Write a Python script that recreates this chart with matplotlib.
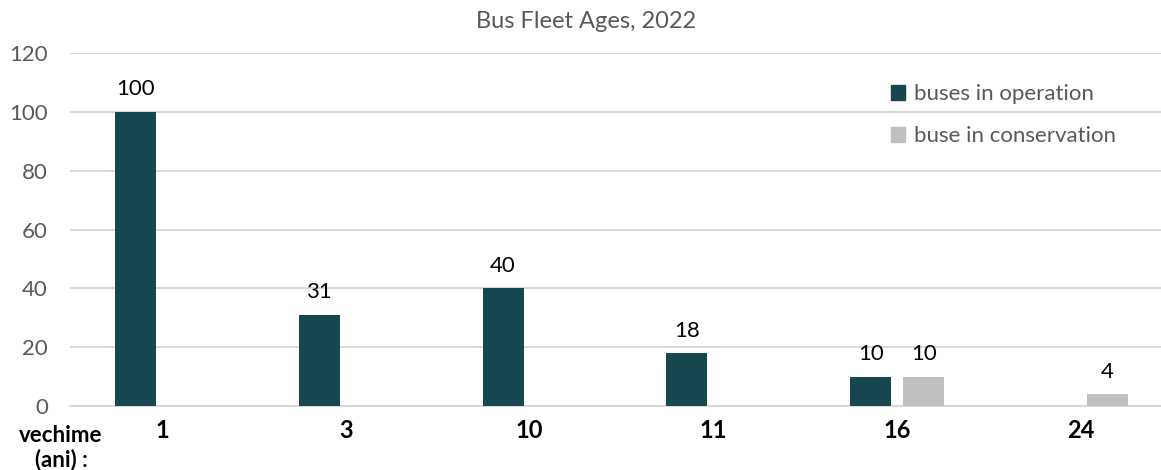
import matplotlib.pyplot as plt
from matplotlib.patches import Patch
import numpy as np

# data
ages = ['1', '3', '10', '11', '16', '24']
in_operation = [100, 31, 40, 18, 10, 0]
in_conservation = [0, 0, 0, 0, 10, 4]

teal = '#16474F'
grey = '#BFBFBF'
txt = '#595959'

plt.rcParams['font.family'] = ['Lato', 'DejaVu Sans']

fig = plt.figure(figsize=(11.61, 4.70), dpi=100)
ax = fig.add_axes([70 / 1161, 64 / 470, 1103 / 1161, 353 / 470])

x = np.arange(len(ages))
w = 0.223
off = 0.144
b1 = ax.bar(x - off, in_operation, w, color=teal, zorder=3)
b2 = ax.bar(x + off, in_conservation, w, color=grey, zorder=3)

# value labels, skip the empty ones
for bars, vals in [(b1, in_operation), (b2, in_conservation)]:
    labels = [str(v) if v else '' for v in vals]
    ax.bar_label(bars, labels=labels, padding=9, fontsize=16, color='black')

ax.set_xlim(-0.5, len(ages) - 0.5)
ax.set_ylim(0, 120)
ax.set_yticks(range(0, 121, 20))
ax.set_xticks(x)
ax.set_xticklabels(ages, fontweight='bold', fontsize=17, color='black')
ax.tick_params(axis='x', length=0, pad=9)
ax.tick_params(axis='y', length=0, pad=16, labelsize=16, labelcolor=txt)

ax.grid(axis='y', color='#D9D9D9', linewidth=1.5, zorder=0)
for s in ['top', 'right', 'left']:
    ax.spines[s].set_visible(False)
ax.spines['bottom'].set_color('#D9D9D9')
ax.spines['bottom'].set_linewidth(1.5)

fig.text(586 / 1161, 1 - 22 / 470, 'Bus Fleet Ages, 2022', ha='center', va='center',
         fontsize=17, color=txt)
fig.text(61 / 1161, 1 - 448 / 470, 'vechime\n(ani) :', ha='center', va='center',
         fontsize=16, fontweight='bold', color='black', linespacing=1.15)

handles = [Patch(color=teal, label='buses in operation'),
           Patch(color=grey, label='buse in conservation')]
leg = ax.legend(handles=handles, loc='upper left', bbox_to_anchor=(882 / 1161, 1 - 75 / 470),
                bbox_transform=fig.transFigure, frameon=False, fontsize=16,
                handlelength=0.65, handleheight=0.65, handletextpad=0.4,
                labelspacing=1.0, borderaxespad=0)
for t in leg.get_texts():
    t.set_color(txt)

fig.savefig('out.png', dpi=100)
